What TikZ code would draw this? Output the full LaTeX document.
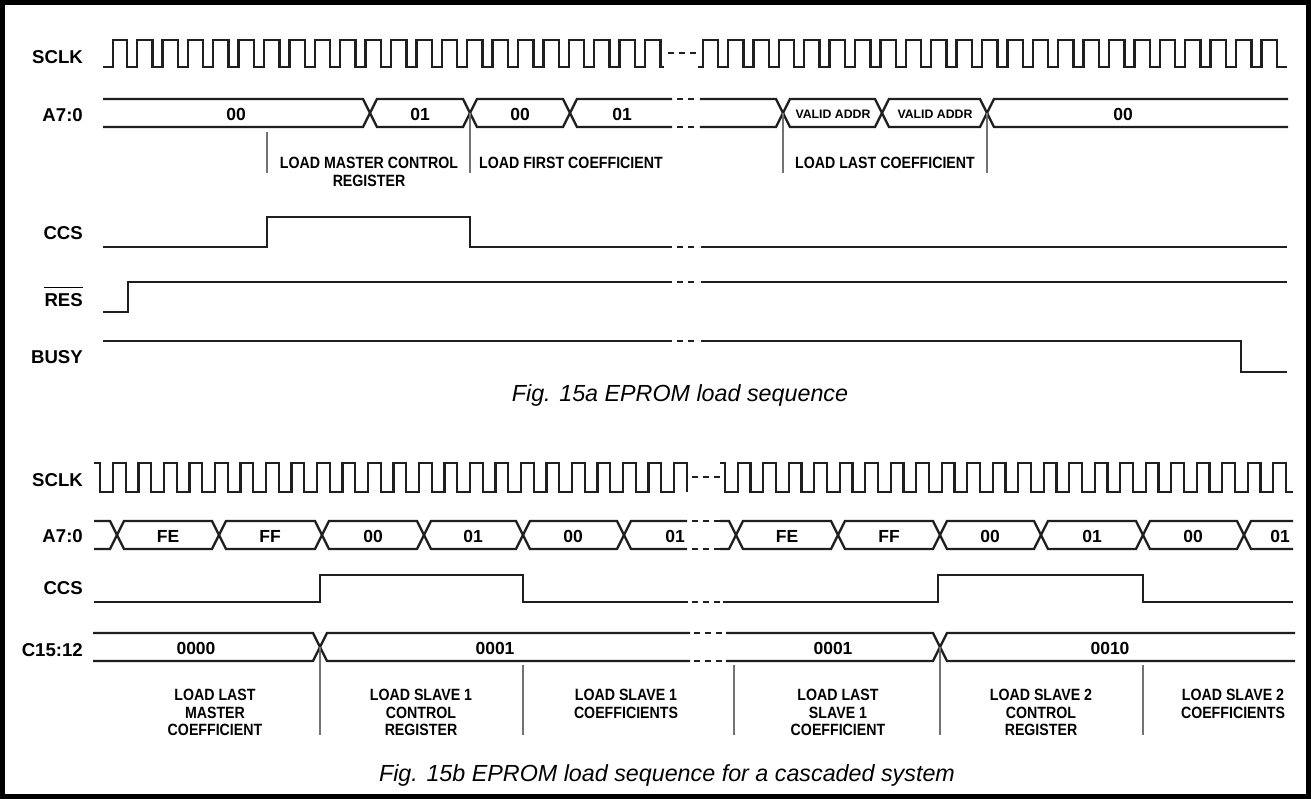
\documentclass[tikz,border=0pt]{standalone}
\usepackage{fontspec}
\setmainfont{Liberation Sans}
\newfontfamily\sigfont{Liberation Sans Bold}
\newfontfamily\lblfont[FakeStretch=0.87]{Liberation Sans Bold}
\newfontfamily\capfont{Liberation Sans Italic}
\newcommand\tdhex[4]{\draw[sig] (#1,{(#3+#4)/2}) -- ({#1+7},#3) -- ({#2-7},#3) -- (#2,{(#3+#4)/2}) -- ({#2-7},#4) -- ({#1+7},#4) -- cycle;}
\newcommand\tdopenL[4]{\draw[sig] (#1,#3) -- ({#2-7},#3) -- (#2,{(#3+#4)/2}) -- ({#2-7},#4) -- (#1,#4);}
\newcommand\tdopenR[4]{\draw[sig] (#2,#3) -- ({#1+7},#3) -- (#1,{(#3+#4)/2}) -- ({#1+7},#4) -- (#2,#4);}
\tikzset{
 sig/.style={line width=2.3pt, line join=miter, black!88},
 brk/.style={line width=2.3pt, dash pattern=on 6pt off 5pt, black!88},
 vmarker/.style={line width=1.1pt, black!55},
 sname/.style={anchor=east, inner sep=0pt, font=\sigfont\fontsize{18.6}{20}\selectfont},
 val/.style={inner sep=0pt, font=\sigfont\fontsize{17.5}{19}\selectfont},
 vsmall/.style={inner sep=0pt, font=\sigfont\fontsize{12.3}{14}\selectfont},
 phase/.style={anchor=north, inner sep=0pt, align=center, font=\lblfont\fontsize{16.3}{17.5}\selectfont},
 figcap/.style={anchor=base, inner sep=0pt, font=\capfont\fontsize{23.3}{26}\selectfont},
}
\begin{document}
\begin{tikzpicture}[x=1pt,y=-1pt]
\useasboundingbox (0,0) rectangle (1311,799);
\fill[white] (0,0) rectangle (1311,799);
\draw[line width=5pt] (2.5,2.5) rectangle (1308,796.5);

% ================= TOP: Fig 15a =================
\node[sname] (sclkA) at (83,57) {SCLK};
\node[sname] (addrA) at (83,115) {A7:0};
\node[sname] (ccsA) at (83,233) {CCS};
\node[sname] (resA) at (83,300) {RES};
\draw[line width=1.3pt] ([yshift=6pt]resA.north west) -- ([yshift=6pt]resA.north east);
\node[sname] (busyA) at (83,357) {BUSY};

% clock
\draw[sig] (103,67) -- (113,67) -- (113,40)
  foreach \k in {0,...,20} { -- ({127+25.4*\k},40) -- ({127+25.4*\k},67) -- ({137+25.4*\k},67) -- ({137+25.4*\k},40) }
  -- (660.4,40) -- (660.4,67) -- (664,67);
\draw[brk] (668,53) -- (697,53);
\draw[sig] (698,67) -- (703,67) -- (703,40)
  foreach \k in {0,...,21} { -- ({718+25.4*\k},40) -- ({718+25.4*\k},67) -- ({728+25.4*\k},67) -- ({728+25.4*\k},40) }
  -- (1276.8,40) -- (1276.8,67) -- (1287,67);

% address bus
\tdopenL{103}{370}{99}{127}
\tdhex{370}{470}{99}{127}
\tdhex{470}{570}{99}{127}
\tdopenR{570}{672}{99}{127}
\draw[brk] (677,99) -- (699,99) (677,127) -- (699,127);
\tdopenL{700}{783}{99}{127}
\tdhex{783}{882}{99}{127}
\tdhex{882}{987}{99}{127}
\tdopenR{987}{1288}{99}{127}
\node[val] (a1) at (236,114) {00};
\node[val] (a2) at (420,114) {01};
\node[val] (a3) at (520,114) {00};
\node[val] (a4) at (622,114) {01};
\node[vsmall] (a5) at (833,114) {VALID ADDR};
\node[vsmall] (a6) at (935,114) {VALID ADDR};
\node[val] (a7) at (1123,114) {00};

% markers & phase labels
\draw[vmarker] (267,132) -- (267,173);
\draw[vmarker] (470,113) -- (470,173);
\draw[vmarker] (783,113) -- (783,173);
\draw[vmarker] (987,113) -- (987,173);
\node[phase] (pA1) at (369,157) {LOAD MASTER CONTROL\\REGISTER};
\node[phase] (pA2) at (571,157) {LOAD FIRST COEFFICIENT};
\node[phase] (pA3) at (885,157) {LOAD LAST COEFFICIENT};

% CCS, RES, BUSY
\draw[sig] (103,247) -- (267,247) -- (267,217) -- (470,217) -- (470,247) -- (672,247);
\draw[brk] (677,247) -- (699,247);
\draw[sig] (701,247) -- (1287,247);
\draw[sig] (103,312) -- (128,312) -- (128,282) -- (672,282);
\draw[brk] (677,282) -- (699,282);
\draw[sig] (701,282) -- (1287,282);
\draw[sig] (103,341) -- (672,341);
\draw[brk] (677,341) -- (699,341);
\draw[sig] (701,341) -- (1241,341) -- (1241,372) -- (1287,372);

\node[figcap] (capA) at (680,401) {Fig. 15a EPROM load sequence};

% ================= BOTTOM: Fig 15b =================
\node[sname] (sclkB) at (83,480) {SCLK};
\node[sname] (addrB) at (83,536) {A7:0};
\node[sname] (ccsB) at (83,588) {CCS};
\node[sname] (cB) at (83,650) {C15:12};

% clock
\draw[sig] (94,463) -- (100.25,463) -- (100.25,492)
  foreach \k in {0,...,22} { -- ({113+25.5*\k},492) -- ({113+25.5*\k},463) -- ({125.75+25.5*\k},463) -- ({125.75+25.5*\k},492) };
\draw[brk] (692,477) -- (720,477);
\draw[sig] (720,463)
  foreach \k in {0,...,21} { -- ({725+25.5*\k},463) -- ({725+25.5*\k},492) -- ({737.75+25.5*\k},492) -- ({737.75+25.5*\k},463) }
  -- (1286,463) -- (1286,492) -- (1293,492);

% address bus
\tdopenL{94}{117}{521}{549}
\tdhex{117}{219}{521}{549}
\tdhex{219}{322}{521}{549}
\tdhex{322}{424}{521}{549}
\tdhex{424}{523}{521}{549}
\tdhex{523}{624}{521}{549}
\tdopenR{624}{687}{521}{549}
\draw[brk] (692,521) -- (720,521) (692,549) -- (720,549);
\tdopenL{720}{736}{521}{549}
\tdhex{736}{838}{521}{549}
\tdhex{838}{940}{521}{549}
\tdhex{940}{1041}{521}{549}
\tdhex{1041}{1143}{521}{549}
\tdhex{1143}{1244}{521}{549}
\tdopenR{1244}{1293}{521}{549}
\node[val] (b1) at (168,536) {FE};
\node[val] (b2) at (270,536) {FF};
\node[val] (b3) at (373,536) {00};
\node[val] (b4) at (473,536) {01};
\node[val] (b5) at (573,536) {00};
\node[val] (b6) at (675,536) {01};
\node[val] (b7) at (787,536) {FE};
\node[val] (b8) at (889,536) {FF};
\node[val] (b9) at (990,536) {00};
\node[val] (b10) at (1092,536) {01};
\node[val] (b11) at (1193,536) {00};
\node[val] (b12) at (1280,536) {01};

% CCS
\draw[sig] (94,602) -- (320,602) -- (320,575) -- (523,575) -- (523,602) -- (688,602);
\draw[brk] (692,602) -- (720,602);
\draw[sig] (723,602) -- (938,602) -- (938,575) -- (1143,575) -- (1143,602) -- (1293,602);

% C15:12 bus
\tdopenL{93}{320}{633}{661}
\tdopenR{320}{690}{633}{661}
\draw[brk] (694,633) -- (722,633) (694,661) -- (722,661);
\tdopenL{726}{940}{633}{661}
\tdopenR{940}{1295}{633}{661}
\node[val] (c1) at (196,648) {0000};
\node[val] (c2) at (495,648) {0001};
\node[val] (c3) at (833,648) {0001};
\node[val] (c4) at (1110,648) {0010};

% markers & phase labels
\draw[vmarker] (320,647) -- (320,735);
\draw[vmarker] (523,665) -- (523,735);
\draw[vmarker] (734,665) -- (734,735);
\draw[vmarker] (940,647) -- (940,735);
\draw[vmarker] (1143,665) -- (1143,735);
\node[phase] (pB1) at (215,689) {LOAD LAST\\MASTER\\COEFFICIENT};
\node[phase] (pB2) at (421,689) {LOAD SLAVE 1\\CONTROL\\REGISTER};
\node[phase] (pB3) at (626,689) {LOAD SLAVE 1\\COEFFICIENTS};
\node[phase] (pB4) at (838,689) {LOAD LAST\\SLAVE 1\\COEFFICIENT};
\node[phase] (pB5) at (1041,689) {LOAD SLAVE 2\\CONTROL\\REGISTER};
\node[phase] (pB6) at (1233,689) {LOAD SLAVE 2\\COEFFICIENTS};

\node[figcap] (capB) at (667,781) {Fig. 15b EPROM load sequence for a cascaded system};
\end{tikzpicture}
\end{document}
